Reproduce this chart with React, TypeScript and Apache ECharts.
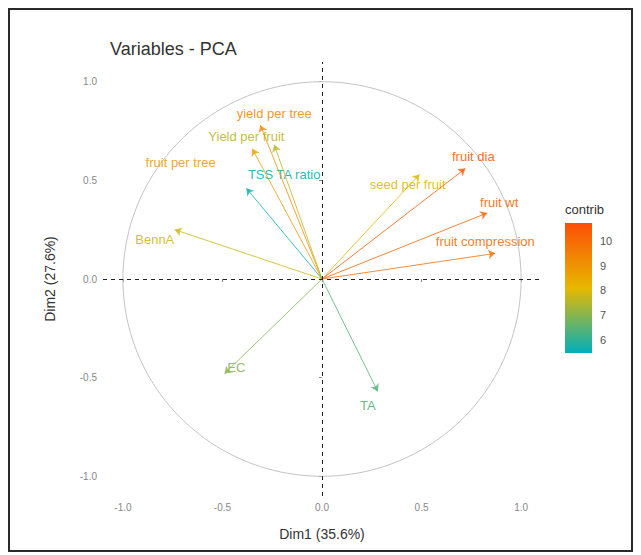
import React, { useEffect, useRef } from "react";
import * as echarts from "echarts";

const varNames = [
  "fruit dia",
  "fruit wt",
  "fruit compression",
  "seed per fruit",
  "yield per tree",
  "Yield per fruit",
  "fruit per tree",
  "TSS TA ratio",
  "BennA",
  "EC",
  "TA",
];
const dim1 = [0.72, 0.83, 0.87, 0.49, -0.31, -0.24, -0.35, -0.38, -0.74, -0.49, 0.28];
const dim2 = [0.56, 0.335, 0.13, 0.53, 0.78, 0.68, 0.66, 0.46, 0.25, -0.48, -0.57];
const contrib = [10.4, 10.1, 9.9, 8.0, 9.2, 7.6, 8.8, 5.6, 7.8, 7.0, 6.4];
const labelX = [0.76, 0.89, 0.82, 0.43, -0.24, -0.38, -0.71, -0.19, -0.84, -0.43, 0.23];
const labelY = [0.62, 0.39, 0.19, 0.48, 0.84, 0.72, 0.59, 0.53, 0.2, -0.45, -0.64];
const axisTicks = [-1, -0.5, 0, 0.5, 1];
const legendTicks = [6, 7, 8, 9, 10];
const contribMin = 5.47;
const contribMax = 10.73;
const gradientCols = ["#00AFBB", "#E7B800", "#FC4E07"];

function hexToRgb(h: string) {
  const n = parseInt(h.slice(1), 16);
  return [(n >> 16) & 255, (n >> 8) & 255, n & 255];
}
function colorFor(v: number) {
  let t = (v - contribMin) / (contribMax - contribMin);
  t = Math.max(0, Math.min(1, t));
  const seg = t < 0.5 ? 0 : 1;
  const lt = t < 0.5 ? t / 0.5 : (t - 0.5) / 0.5;
  const a = hexToRgb(gradientCols[seg]);
  const b = hexToRgb(gradientCols[seg + 1]);
  const c = a.map((x, i) => Math.round(x + (b[i] - x) * lt));
  return `rgb(${c[0]},${c[1]},${c[2]})`;
}

const FONT = "Liberation Sans, Arial, sans-serif";

export default function App() {
  const ref = useRef<HTMLDivElement>(null);
  useEffect(() => {
    if (!ref.current) return;
    const chart = echarts.init(ref.current, null, { renderer: "svg" });
    const arrows = varNames.map((n, i) => ({
      name: n,
      coords: [
        [0, 0],
        [dim1[i], dim2[i]],
      ],
      lineStyle: { color: colorFor(contrib[i]) },
    }));
    const labels = varNames.map((n, i) => ({
      name: n,
      value: [labelX[i], labelY[i]],
      label: { color: colorFor(contrib[i]) },
    }));
    chart.setOption({
      animation: false,
      backgroundColor: "#ffffff",
      textStyle: { fontFamily: FONT },
      title: {
        text: "Variables - PCA",
        left: 105,
        top: 35,
        textStyle: { fontSize: 18, fontWeight: "normal", color: "#333", fontFamily: FONT },
      },
      graphic: [
        {
          type: "rect",
          shape: { x: 9, y: 9, width: 623, height: 542 },
          style: { fill: "none", stroke: "#2a2a2a", lineWidth: 2 },
          silent: true,
        },
        {
          type: "text",
          left: 565,
          top: 203,
          style: { text: "contrib", fontSize: 13, fill: "#333", font: `13px ${FONT}` },
        },
      ],
      grid: [
        { left: 103, top: 62, width: 438, height: 434 },
        {
          left: 565,
          top: 223,
          width: 27,
          height: 130,
          show: true,
          borderWidth: 0,
          backgroundColor: new echarts.graphic.LinearGradient(0, 0, 0, 1, [
            { offset: 0, color: gradientCols[2] },
            { offset: 0.5, color: gradientCols[1] },
            { offset: 1, color: gradientCols[0] },
          ]),
        },
      ],
      xAxis: [
        {
          type: "value",
          min: -1.1,
          max: 1.1,
          name: "Dim1 (35.6%)",
          nameLocation: "middle",
          nameGap: 31,
          nameTextStyle: { fontSize: 14, color: "#333", fontFamily: FONT },
          axisLine: { show: false },
          splitLine: { show: false },
          axisTick: { show: true, customValues: axisTicks, length: 3, lineStyle: { color: "#888" } },
          axisLabel: {
            customValues: axisTicks,
            formatter: (v: number) => v.toFixed(1),
            fontSize: 10,
            color: "#888",
            margin: 6,
          },
        },
        { type: "value", gridIndex: 1, show: false, min: 0, max: 1 },
      ],
      yAxis: [
        {
          type: "value",
          min: -1.1,
          max: 1.1,
          name: "Dim2 (27.6%)",
          nameLocation: "middle",
          nameGap: 46,
          nameTextStyle: { fontSize: 14, color: "#333", fontFamily: FONT },
          axisLine: { show: false },
          splitLine: { show: false },
          axisTick: { show: true, customValues: axisTicks, length: 3, lineStyle: { color: "#888" } },
          axisLabel: {
            customValues: axisTicks,
            formatter: (v: number) => v.toFixed(1),
            fontSize: 10,
            color: "#888",
            margin: 6,
          },
        },
        {
          type: "value",
          gridIndex: 1,
          min: contribMin,
          max: contribMax,
          position: "right",
          axisLine: { show: false },
          splitLine: { show: false },
          axisTick: {
            show: true,
            inside: true,
            length: 5,
            customValues: legendTicks,
            lineStyle: { color: "#ffffff", width: 1 },
          },
          axisLabel: { customValues: legendTicks, fontSize: 11, color: "#555", margin: 8 },
        },
      ],
      series: [
        {
          type: "custom",
          coordinateSystem: "cartesian2d",
          silent: true,
          data: [[0, 0]],
          renderItem: (_p: any, api: any) => {
            const pts: number[][] = [];
            for (let a = 0; a <= 360; a += 2) {
              const r = (a * Math.PI) / 180;
              pts.push(api.coord([Math.cos(r), Math.sin(r)]));
            }
            return {
              type: "polyline",
              shape: { points: pts },
              style: { stroke: "#c4c4c4", lineWidth: 1, fill: "none" },
            };
          },
          z: 1,
        },
        {
          type: "scatter",
          symbolSize: 0,
          silent: true,
          data: labels,
          label: {
            show: true,
            position: "inside",
            formatter: "{b}",
            fontSize: 13,
            fontFamily: FONT,
            opacity: 0.9,
          },
          markLine: {
            silent: true,
            symbol: "none",
            label: { show: false },
            lineStyle: { color: "#222", type: [4, 4], width: 1 },
            data: [{ xAxis: 0 }, { yAxis: 0 }],
          },
          z: 3,
        },
        {
          type: "lines",
          coordinateSystem: "cartesian2d",
          silent: true,
          symbol: ["none", "arrow"],
          symbolSize: [0, 7],
          lineStyle: { width: 1, opacity: 0.8 },
          data: arrows,
          z: 4,
        },
      ],
    });
    return () => chart.dispose();
  }, []);
  return (
    <div
      ref={ref}
      style={{ position: "absolute", left: 0, top: 0, width: 641, height: 555 }}
    />
  );
}
